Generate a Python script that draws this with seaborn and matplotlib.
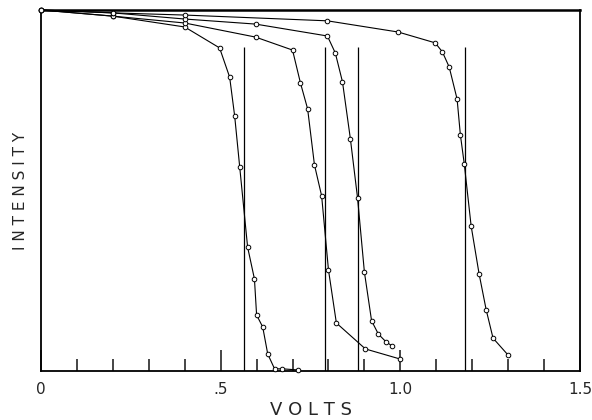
import numpy as np
import pandas as pd
import matplotlib
matplotlib.use('Agg')
import matplotlib.pyplot as plt
from matplotlib.ticker import MultipleLocator
import seaborn as sns

# curve readings (volts, relative intensity), left to right
volts_a = [0.0, 0.2, 0.4, 0.497, 0.525, 0.539, 0.553, 0.575, 0.594, 0.600, 0.617, 0.631, 0.650, 0.672, 0.714]
inten_a = [1.0, 0.983, 0.953, 0.895, 0.814, 0.706, 0.565, 0.343, 0.255, 0.155, 0.122, 0.047, 0.006, 0.006, 0.003]

volts_b = [0.0, 0.2, 0.4, 0.597, 0.700, 0.722, 0.742, 0.761, 0.781, 0.800, 0.822, 0.903, 1.0]
inten_b = [1.0, 0.983, 0.964, 0.925, 0.889, 0.798, 0.726, 0.571, 0.485, 0.280, 0.133, 0.061, 0.033]

volts_c = [0.0, 0.2, 0.4, 0.597, 0.797, 0.819, 0.839, 0.861, 0.881, 0.900, 0.920, 0.939, 0.961, 0.978]
inten_c = [1.0, 0.992, 0.975, 0.961, 0.928, 0.881, 0.801, 0.643, 0.479, 0.274, 0.139, 0.102, 0.080, 0.069]

volts_d = [0.0, 0.2, 0.4, 0.797, 0.994, 1.097, 1.117, 1.136, 1.158, 1.167, 1.178, 1.197, 1.219, 1.239, 1.258, 1.300]
inten_d = [1.0, 0.992, 0.986, 0.970, 0.939, 0.909, 0.884, 0.842, 0.753, 0.655, 0.573, 0.402, 0.270, 0.169, 0.091, 0.044]

# vertical marker lines
cutoffs = [0.565, 0.791, 0.881, 1.18]
cutoff_top = 0.897

tick_pos = [0, 0.5, 1.0, 1.5]
tick_labels = ['0', '.5', '1.0', '1.5']

sns.set_style('white')
plt.rcParams['font.family'] = ['DejaVu Sans']

fig = plt.figure(figsize=(5.92, 4.20), dpi=100)
ax = fig.add_axes([41 / 592, 1 - 371 / 420, (580 - 41) / 592, (371 - 10) / 420])

curves = [(volts_a, inten_a), (volts_b, inten_b), (volts_c, inten_c), (volts_d, inten_d)]
for v, s in curves:
    df = pd.DataFrame({'volts': v, 'intensity': s})
    sns.lineplot(data=df, x='volts', y='intensity', ax=ax, color='black', lw=0.8,
                 sort=False, estimator=None, marker='o', markersize=3.3,
                 markerfacecolor='white', markeredgecolor='black', markeredgewidth=0.7,
                 clip_on=False, zorder=3)

ax.vlines(cutoffs, 0, cutoff_top, color='black', lw=0.9)

ax.set_xlim(0, 1.5)
ax.set_ylim(0, 1.0)
ax.set_xticks(tick_pos)
ax.set_xticklabels(tick_labels, fontsize=11)
ax.xaxis.set_minor_locator(MultipleLocator(0.1))
ax.tick_params(axis='x', which='major', direction='in', length=15, width=1.2, pad=8, bottom=True)
ax.tick_params(axis='x', which='minor', direction='in', length=9, width=1.2, bottom=True)
ax.set_yticks([])

for sp in ax.spines.values():
    sp.set_color('black')
    sp.set_linewidth(1.3)
ax.spines['top'].set_linewidth(1.8)

ax.set_xlabel('V O L T S', fontsize=13, labelpad=3, fontweight='medium')
ax.set_ylabel('I N T E N S I T Y', fontsize=11, labelpad=9, fontweight='medium')

fig.savefig('out.png', dpi=100)
